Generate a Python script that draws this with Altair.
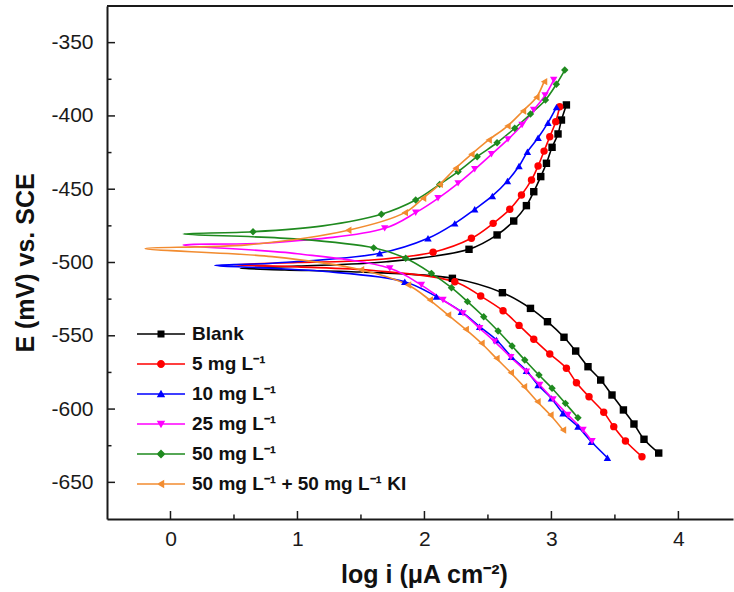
import altair as alt
import pandas as pd

# ---------------- data ----------------
series_names = ["Blank", "5 mg L⁻¹", "10 mg L⁻¹", "25 mg L⁻¹", "50 mg L⁻¹",
                "50 mg L⁻¹ + 50 mg L⁻¹ KI"]
colors = ["#000000", "#ff0000", "#0000ff", "#ff00ff", "#1f8a1f", "#f28c30"]
marker_shapes = ["square", "circle", "triangle-up", "triangle-down", "diamond", "triangle-left"]

# each series: log i values, E values (ordered by potential), marker flag (1 = marker drawn)
blank_logi = [3.845, 3.729, 3.650, 3.567, 3.477, 3.388, 3.288, 3.191, 3.099, 2.969, 2.835, 2.614, 2.220,
              1.5, 0.9, 0.55, 1.0, 1.7, 2.351, 2.572, 2.703, 2.803, 2.861, 2.916, 2.961, 3.005, 3.052, 3.079, 3.118]
blank_E = [-630.0, -620.6, -610.2, -600.6, -590.4, -580.2, -571.1, -560.4, -551.0, -540.4, -531.3, -520.6, -510.8,
           -506.5, -505.0, -504.0, -502.5, -499.5, -491.0, -481.2, -471.7, -461.2, -451.7, -441.4, -432.3, -421.4,
           -412.3, -402.8, -392.5]
blank_mark = [1] * 13 + [0, 0, 0, 0, 0] + [1] * 11

red_logi = [3.713, 3.583, 3.491, 3.412, 3.296, 3.197, 3.118, 2.987, 2.861, 2.745, 2.619, 2.443, 2.239,
            1.6, 1.0, 0.5, 1.0, 1.55, 2.068, 2.370, 2.541, 2.672, 2.764, 2.843, 2.895, 2.942, 2.987, 3.034, 3.065]
red_E = [-632.5, -621.8, -612.0, -602.2, -591.6, -582.0, -572.2, -562.4, -552.4, -542.9, -532.9, -522.9, -513.1,
         -505.5, -503.0, -501.5, -500.0, -498.5, -493.0, -483.5, -473.3, -463.7, -454.0, -443.7, -434.2, -424.0,
         -414.2, -403.9, -393.7]
red_mark = [1] * 13 + [0, 0, 0, 0, 0] + [1] * 11

blue_logi = [3.441, 3.315, 3.209, 3.091, 3.000, 2.895, 2.803, 2.685, 2.567, 2.435, 2.291, 2.094, 1.845,
             1.2, 0.7, 0.35, 0.8, 1.648, 2.028, 2.239, 2.396, 2.535, 2.654, 2.745, 2.811, 2.895, 2.973, 3.040]
blue_E = [-633.2, -622.3, -612.0, -602.9, -592.7, -583.6, -573.8, -564.3, -552.9, -543.8, -533.6, -523.3, -513.1,
          -506.0, -503.5, -502.0, -500.5, -493.7, -483.5, -473.3, -463.7, -454.6, -444.4, -434.2, -424.4, -414.9,
          -404.6, -394.0]
blue_mark = [1] * 13 + [0, 0, 0, 0] + [1] * 11

mag_logi = [3.320, 3.249, 3.130, 3.013, 2.908, 2.803, 2.680, 2.553, 2.435, 2.304, 2.146, 1.976, 1.727,
            1.0, 0.1, 0.8, 1.687, 1.931, 2.107, 2.265, 2.396, 2.528, 2.658, 2.769, 2.860, 2.950, 3.018]
mag_E = [-622.0, -614.3, -604.0, -593.4, -583.6, -574.5, -564.7, -554.0, -544.9, -534.7, -525.6, -515.4, -504.0,
         -494.0, -488.0, -486.5, -476.7, -466.0, -456.2, -446.0, -436.4, -426.2, -416.0, -406.2, -396.0, -386.0,
         -375.5]
mag_mark = [1] * 13 + [0, 0, 0] + [1] * 11

green_logi = [3.209, 3.110, 3.005, 2.902, 2.790, 2.690, 2.580, 2.467, 2.339, 2.213, 2.055, 1.852, 1.6,
              1.0, 0.1, 0.65, 1.2, 1.661, 1.931, 2.120, 2.265, 2.415, 2.572, 2.711, 2.835, 2.953, 3.039, 3.105]
green_E = [-605.9, -596.1, -585.8, -576.8, -566.5, -557.0, -546.7, -537.0, -526.7, -517.2, -507.4, -497.1, -490.0,
           -484.0, -480.5, -479.0, -475.0, -467.1, -457.4, -446.7, -438.0, -427.8, -418.3, -408.4, -398.7, -389.1,
           -378.4, -368.7]
green_mark = [1] * 13 + [0, 0, 1, 0] + [1] * 11

orange_logi = [3.091, 2.992, 2.890, 2.784, 2.680, 2.567, 2.449, 2.325, 2.186, 2.042, 1.871, 1.5,
               0.8, -0.2, 0.6, 1.4, 1.845, 1.989, 2.120, 2.246, 2.370, 2.506, 2.654, 2.776, 2.882, 2.942]
orange_E = [-614.3, -604.1, -595.0, -584.7, -575.2, -565.4, -555.1, -545.6, -535.8, -525.6, -515.4, -505.0,
            -496.0, -490.5, -488.0, -478.0, -466.0, -456.2, -446.7, -435.7, -426.2, -416.4, -406.9, -396.6,
            -387.3, -376.6]
orange_mark = [1] * 12 + [0, 0, 0, 1] + [1] * 10

x_major = [0, 1, 2, 3, 4]
x_minor = [0.5, 1.5, 2.5, 3.5]
y_major = [-350, -400, -450, -500, -550, -600, -650]
y_minor = [-375, -425, -475, -525, -575, -625]

# ---------------- build table ----------------
all_series = [
    (blank_logi, blank_E, blank_mark),
    (red_logi, red_E, red_mark),
    (blue_logi, blue_E, blue_mark),
    (mag_logi, mag_E, mag_mark),
    (green_logi, green_E, green_mark),
    (orange_logi, orange_E, orange_mark),
]
rows = []
for name, (lx, ey, mk) in zip(series_names, all_series):
    for i, (a, b, m) in enumerate(zip(lx, ey, mk)):
        rows.append({"series": name, "L": a, "E": b, "mark": m, "idx": i})
df = pd.DataFrame(rows)

W, H = 626, 513
xs = alt.Scale(domain=[-0.5, 4.43], nice=False, zero=False)
ys = alt.Scale(domain=[-675, -325], nice=False, zero=False)
FONT = "Liberation Sans"

x_axis = alt.Axis(values=x_major, ticks=False, grid=False, domainWidth=2, domainColor="#1a1a1a",
                  labelFontSize=21, labelPadding=9, labelColor="#1a1a1a",
                  title="log i (μA cm⁻²)", titleFontSize=25, titleFontWeight="bold",
                  titlePadding=13, titleX=317, titleColor="#111")
y_axis = alt.Axis(values=y_major, ticks=False, grid=False, domainWidth=2, domainColor="#1a1a1a",
                  labelFontSize=21, labelPadding=14, labelColor="#1a1a1a",
                  labelExpr="datum.value < 0 ? '-' + format(-datum.value, 'd') : format(datum.value, 'd')",
                  title="E (mV) vs. SCE", titleFontSize=25, titleFontWeight="bold",
                  titlePadding=12, titleColor="#111")

X = alt.X("L:Q", scale=xs, axis=x_axis)
Y = alt.Y("E:Q", scale=ys, axis=y_axis)

layers = []
for name, col in zip(series_names, colors):
    layers.append(
        alt.Chart(df).transform_filter(alt.datum.series == name).mark_line(
            strokeWidth=1.6, interpolate="catmull-rom", color=col
        ).encode(x=X, y=Y, order=alt.Order("idx:Q"))
    )

for name, col, shp in zip(series_names, colors, marker_shapes):
    layers.append(
        alt.Chart(df).transform_filter(
            (alt.datum.series == name) & (alt.datum.mark == 1)
        ).mark_point(shape=shp, filled=True, size=55, opacity=1, color=col).encode(x=X, y=Y)
    )

# legend symbols: a short line with the marker in its middle
bar = "M-1,-0.07H3.8V0.07H-1Z"
legend_paths = [
    bar + "M1.05,-0.35H1.75V0.35H1.05Z",
    bar + "M1.8,0A0.4,0.4 0 1,1 1.0,0A0.4,0.4 0 1,1 1.8,0Z",
    bar + "M1.4,-0.42L1.82,0.32L0.98,0.32Z",
    bar + "M0.98,-0.32L1.82,-0.32L1.4,0.42Z",
    bar + "M1.4,-0.45L1.85,0L1.4,0.45L0.95,0Z",
    bar + "M0.98,0L1.72,-0.42L1.72,0.42Z",
]
leg = dict(orient="none", legendX=30, legendY=318, title=None, padding=0,
           labelFont=FONT, labelFontSize=19, labelFontWeight="bold", labelColor="#111",
           labelLimit=0, symbolSize=400, symbolStrokeWidth=0, labelOffset=35, rowPadding=10,
           symbolOpacity=1)
layers.append(
    alt.Chart(df).transform_filter("datum.E > 0").mark_point(
        filled=True, size=400, opacity=1
    ).encode(
        x=X, y=Y,
        color=alt.Color("series:N", scale=alt.Scale(domain=series_names, range=colors),
                        legend=alt.Legend(**leg)),
        shape=alt.Shape("series:N", scale=alt.Scale(domain=series_names, range=legend_paths),
                        legend=alt.Legend(**leg)),
    )
)

tick_df_x = pd.DataFrame({"L": x_major})
tick_df_xm = pd.DataFrame({"L": x_minor})
tick_df_y = pd.DataFrame({"E": y_major})
tick_df_ym = pd.DataFrame({"E": y_minor})
layers += [
    alt.Chart(tick_df_x).mark_rule(color="#1a1a1a", strokeWidth=1.5).encode(
        x=X, y=alt.value(H), y2=alt.value(H - 8)),
    alt.Chart(tick_df_xm).mark_rule(color="#1a1a1a", strokeWidth=1.5).encode(
        x=X, y=alt.value(H), y2=alt.value(H - 4.5)),
    alt.Chart(tick_df_y).mark_rule(color="#1a1a1a", strokeWidth=1.5).encode(
        y=Y, x=alt.value(0), x2=alt.value(8)),
    alt.Chart(tick_df_ym).mark_rule(color="#1a1a1a", strokeWidth=1.5).encode(
        y=Y, x=alt.value(0), x2=alt.value(4.5)),
    alt.Chart(pd.DataFrame({"L": [0]})).mark_rule(color="#1a1a1a", strokeWidth=2).encode(
        x=alt.value(0), x2=alt.value(W), y=alt.value(0)),
]

chart = alt.layer(*layers).properties(
    width=W, height=H,
    autosize=alt.AutoSizeParams(type="none"),
    padding={"left": 107, "top": 6, "right": 1, "bottom": 73},
).configure(
    font=FONT,
).configure_view(
    stroke=None,
)

chart.save("out.html", embed_options={"renderer": "svg", "actions": False})
